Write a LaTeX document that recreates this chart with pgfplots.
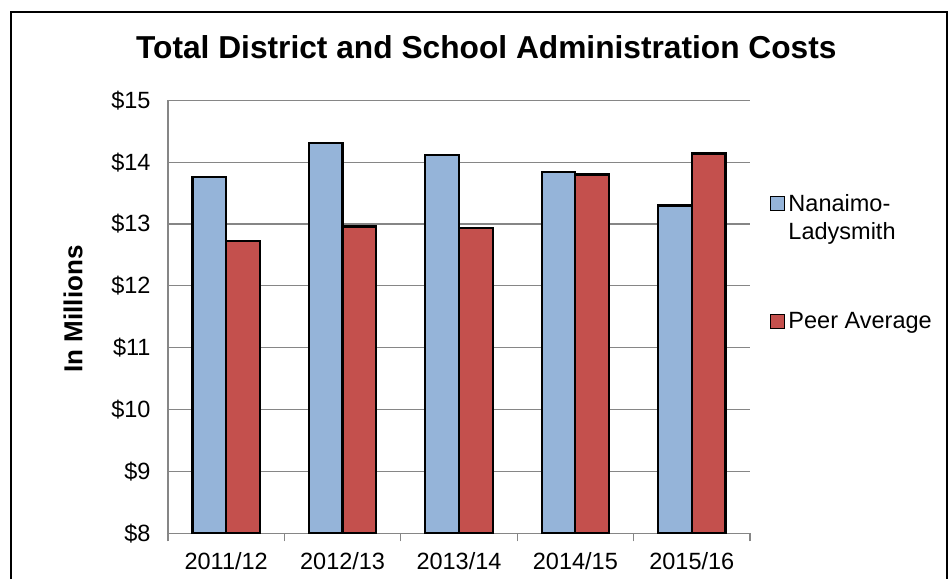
\documentclass[border=0pt]{standalone}
\usepackage{pgfplots}
\pgfplotsset{compat=1.18}
\usepackage{fontspec}
\setmainfont{Liberation Sans}
\definecolor{nlblue}{RGB}{149,180,217}
\definecolor{peerred}{RGB}{196,80,77}
\definecolor{gridgray}{RGB}{134,134,134}
\begin{document}
\begin{tikzpicture}
\useasboundingbox (-168pt,-45.7pt) rectangle (782pt,533.3pt);
\draw[line width=1.3pt] (-157pt,-45.7pt) -- (-157pt,521.3pt) -- (779pt,521.3pt) -- (779pt,-45.7pt);
\begin{axis}[
  at={(0pt,0pt)}, anchor=south west,
  width=582pt, height=433pt, scale only axis,
  xmin=-0.5, xmax=4.5, ymin=8, ymax=15,
  axis lines*=left,
  axis line style={gridgray, line width=1.2pt},
  ybar=0pt, bar width=0.29,
  xtick={0,1,2,3,4},
  xticklabels={2011/12,2012/13,2013/14,2014/15,2015/16},
  extra x ticks={-0.5,0.5,1.5,2.5,3.5,4.5},
  extra x tick labels={},
  extra x tick style={major tick length=8pt, tick align=outside, grid=none, tick style={gridgray, line width=1.2pt}},
  ytick={8,9,10,11,12,13,14,15},
  yticklabels={\$8,\$9,\$10,\$11,\$12,\$13,\$14,\$15},
  major tick length=0pt,
  ymajorgrids,
  grid style={gridgray, line width=1.2pt},
  tick label style={font=\fontsize{23.5}{28}\selectfont, black},
  xticklabel style={yshift=-16pt},
  yticklabel style={xshift=-14pt},
  ylabel={In Millions},
  ylabel style={font=\fontsize{26}{30}\selectfont\bfseries, at={(axis description cs:-0.163,0.518)}, anchor=center},
  title={Total District and School Administration Costs},
  title style={font=\fontsize{31.7}{36}\selectfont\bfseries, at={(axis description cs:0.547,1)}, anchor=base, yshift=36pt},
  legend style={draw=none, fill=none, at={(axis description cs:1.029,0.795)}, anchor=north west,
    font=\fontsize{23.5}{28}\selectfont, row sep=66pt,
    nodes={align=left, inner sep=3pt}},
  legend cell align=left,
]
\addplot[fill=nlblue, draw=black, line width=2.2pt,
  legend image code/.code={\draw[fill=nlblue, draw=black, line width=1.4pt] (0pt,7pt) rectangle (14pt,21pt);}]
  coordinates {(0,13.76) (1,14.31) (2,14.11) (3,13.84) (4,13.30)};
\addplot[fill=peerred, draw=black, line width=2.2pt,
  legend image code/.code={\draw[fill=peerred, draw=black, line width=1.4pt] (0pt,-7pt) rectangle (14pt,7pt);}]
  coordinates {(0,12.73) (1,12.96) (2,12.94) (3,13.80) (4,14.14)};
\legend{Nanaimo-\\Ladysmith, Peer Average}
\end{axis}
\end{tikzpicture}
\end{document}
